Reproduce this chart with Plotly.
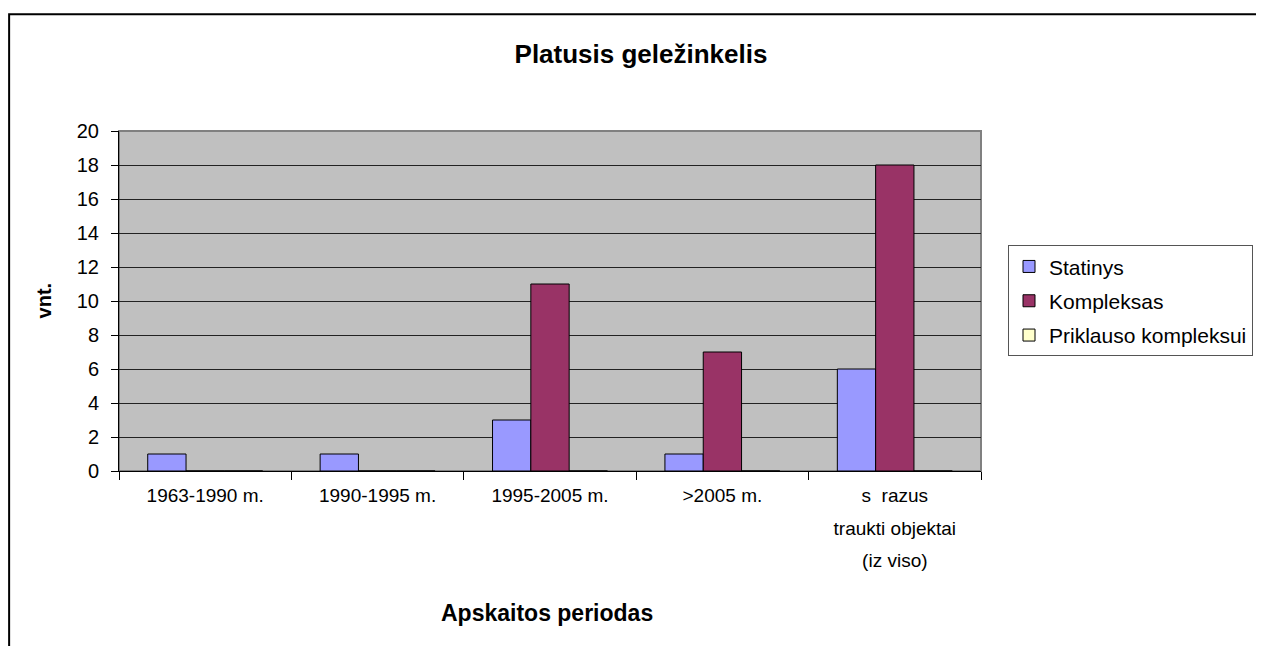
import plotly.graph_objects as go

# data
periods = ["1963-1990 m.", "1990-1995 m.", "1995-2005 m.", ">2005 m.", "s razus traukti objektai (iz viso)"]
period_labels = ["1963-1990 m.", "1990-1995 m.", "1995-2005 m.", ">2005 m.",
                 "s\u00a0 razus<br>traukti objektai<br>(iz viso)"]
statinys = [1, 1, 3, 1, 6]
kompleksas = [0, 0, 11, 7, 18]
priklauso = [0, 0, 0, 0, 0]

series = [
    ("Statinys", statinys, "#9999FF"),
    ("Kompleksas", kompleksas, "#993366"),
    ("Priklauso kompleksui", priklauso, "#FFFFCC"),
]

FONT = "Liberation Sans, Arial, sans-serif"

# the html page has an 8px body margin, so work in page pixels and shift
OFF = 8
W, H = 1264 - OFF, 646 - OFF
L, R, T, B = 119 - OFF, 982 - OFF, 130.7 - OFF, 470.7 - OFF
pw, ph = R - L, B - T


def px_x(x):
    return (x - OFF - L) / pw


def px_y(y):
    return (B - (y - OFF)) / ph


fig = go.Figure()
for name, vals, col in series:
    fig.add_trace(go.Bar(
        x=periods, y=vals, name=name, legendgroup=name,
        marker=dict(color=col, line=dict(color="black", width=1)),
    ))

# big tick font gives Excel-like line spacing, span keeps the glyphs smaller
tick_text = [f'<span style="font-size:19px">{t}</span>' for t in period_labels]

fig.update_layout(
    width=W, height=H,
    margin=dict(l=L, r=W - R, t=T, b=H - B, pad=0),
    paper_bgcolor="white",
    plot_bgcolor="#C0C0C0",
    barmode="group",
    bargap=1 / 3,
    bargroupgap=0,
    font=dict(family=FONT, size=18, color="black"),
    title=dict(text="<b>Platusis geležinkelis</b>", x=(641 - OFF) / W, xref="container",
               xanchor="center", y=1 - (54 - OFF) / H, yref="container", yanchor="middle",
               font=dict(family=FONT, size=26, color="black")),
    legend=dict(x=px_x(1008), xanchor="left", y=px_y(300.5), yanchor="middle",
                bgcolor="white", bordercolor="#555555", borderwidth=1,
                font=dict(family=FONT, size=21, color="black"),
                traceorder="grouped", tracegroupgap=4),
    showlegend=True,
)

fig.update_xaxes(
    type="category", categoryorder="array", categoryarray=periods,
    tickmode="array", tickvals=periods, ticktext=tick_text,
    tickson="boundaries", ticks="outside", ticklen=8, tickcolor="black",
    tickfont=dict(family=FONT, size=25, color="black"),
    showline=True, linecolor="black", linewidth=1,
    showgrid=False, zeroline=False,
)
fig.update_yaxes(
    range=[0, 20], dtick=2, tick0=0,
    ticks="outside", ticklen=7, tickcolor="black",
    tickfont=dict(family=FONT, size=20, color="black"),
    ticklabelstandoff=8,
    showline=True, linecolor="black", linewidth=1,
    showgrid=True, gridcolor="#222222", gridwidth=1,
    zeroline=False,
)

# plot-area border (grey) and the outer chart frame
fig.add_shape(type="rect", xref="paper", yref="paper", x0=0, x1=1, y0=0, y1=1,
              line=dict(color="#808080", width=2), layer="below")
fig.add_shape(type="rect", xref="paper", yref="paper",
              x0=px_x(9), x1=px_x(1320), y0=px_y(14), y1=px_y(720),
              line=dict(color="black", width=2))

fig.add_annotation(text="<b>vnt.</b>", xref="paper", yref="paper",
                   x=px_x(44), y=px_y(300), xanchor="center", yanchor="middle",
                   textangle=-90, showarrow=False,
                   font=dict(family=FONT, size=20, color="black"))
fig.add_annotation(text="<b>Apskaitos periodas</b>", xref="paper", yref="paper",
                   x=px_x(547), y=px_y(613), xanchor="center", yanchor="middle",
                   showarrow=False,
                   font=dict(family=FONT, size=23, color="black"))

fig.write_html("out.html")
